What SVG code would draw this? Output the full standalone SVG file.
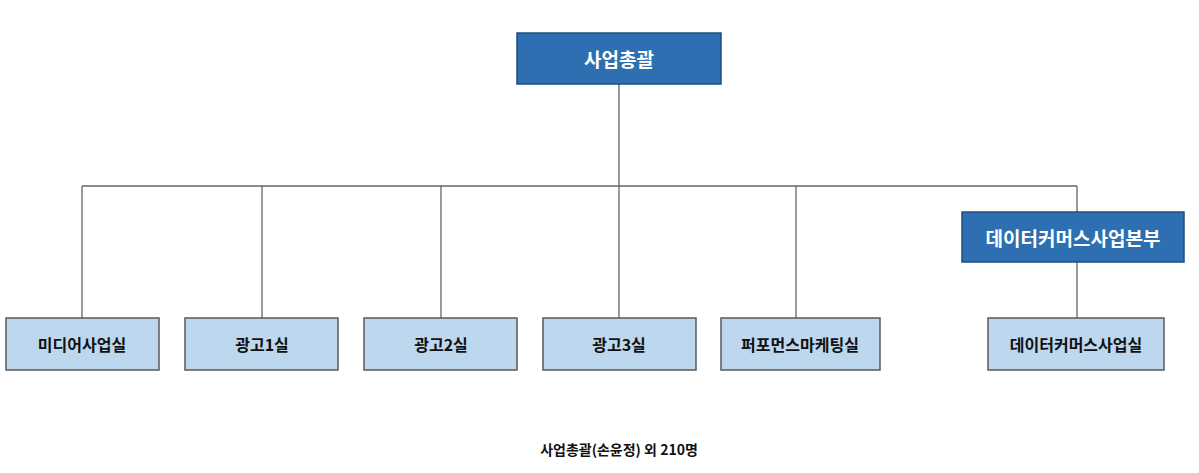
<svg xmlns="http://www.w3.org/2000/svg" width="1199" height="473" viewBox="0 0 1199 473">
<style>
.dk{fill:#2e6fb1;stroke:#1f4e7d;stroke-width:1.5}
.lt{fill:#bdd7ee;stroke:#595959;stroke-width:1.5}
.tw{font-family:"Noto Sans CJK KR","Noto Sans",sans-serif;font-weight:bold;font-size:19px;fill:#fff;text-anchor:middle;dominant-baseline:central}
.tb{font-family:"Noto Sans CJK KR","Noto Sans",sans-serif;font-weight:bold;font-size:16px;fill:#111;text-anchor:middle;dominant-baseline:central}
.ln{stroke:#666;stroke-width:1.3;fill:none}
</style>
<rect width="1199" height="473" fill="#fff"/>
<g id="connectors">
<path class="ln" d="M619 84V186M82 186H1077M82 186V318M262 186V318M441 186V318M619 186V318M796 186V318M1077 186V212M1077 262V318"/>
</g>
<g id="n0"><rect class="dk" x="517" y="33" width="204" height="51"/><text class="tw" x="619" y="58">사업총괄</text></g>
<g id="n1"><rect class="lt" x="6" y="318" width="153" height="52"/><text class="tb" x="82" y="344">미디어사업실</text></g>
<g id="n2"><rect class="lt" x="185" y="318" width="153" height="52"/><text class="tb" x="262" y="344">광고1실</text></g>
<g id="n3"><rect class="lt" x="364" y="318" width="153" height="52"/><text class="tb" x="441" y="344">광고2실</text></g>
<g id="n4"><rect class="lt" x="543" y="318" width="153" height="52"/><text class="tb" x="619" y="344">광고3실</text></g>
<g id="n5"><rect class="lt" x="721" y="318" width="159" height="52"/><text class="tb" x="800" y="344">퍼포먼스마케팅실</text></g>
<g id="n6"><rect class="dk" x="962" y="212" width="222" height="50"/><text class="tw" x="1073" y="237">데이터커머스사업본부</text></g>
<g id="n7"><rect class="lt" x="988" y="318" width="176" height="52"/><text class="tb" x="1076" y="344">데이터커머스사업실</text></g>
<text x="619" y="449" font-family="Noto Sans CJK KR,Noto Sans,sans-serif" font-weight="bold" font-size="14" fill="#111" text-anchor="middle" dominant-baseline="central">사업총괄(손윤정) 외 210명</text>
</svg>
